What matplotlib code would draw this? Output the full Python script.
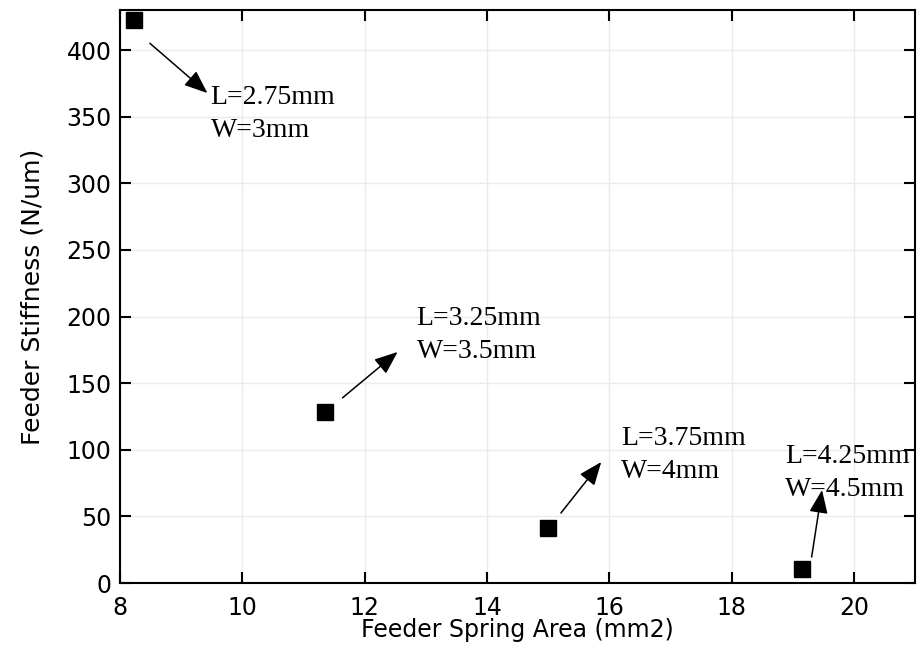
import matplotlib
matplotlib.use('Agg')
import matplotlib.pyplot as plt

# 数据
area = [8.23, 11.36, 15.0, 19.15]
stiffness = [422.5, 128.5, 41.0, 10.5]
labels = ['L=2.75mm\nW=3mm', 'L=3.25mm\nW=3.5mm', 'L=3.75mm\nW=4mm', 'L=4.25mm\nW=4.5mm']

# 箭头和文字位置 (数据坐标)
arrow_tail = [(8.49, 405), (11.64, 139), (15.21, 52.5), (19.31, 19.5)]
arrow_head = [(9.43, 367.7), (12.54, 173.4), (15.87, 90.8), (19.48, 69.8)]
text_pos = [(9.48, 352), (12.85, 186), (16.2, 96), (18.87, 82.5)]

fig = plt.figure(figsize=(9.18, 6.47), dpi=100)
ax = fig.add_axes([0.1307, 0.0989, 0.8660, 0.8856])

ax.plot(area, stiffness, 's', color='black', markersize=11, linestyle='none')

for lab, tail, head, tp in zip(labels, arrow_tail, arrow_head, text_pos):
    ax.annotate('', xy=head, xytext=tail,
                arrowprops=dict(arrowstyle='-|>,head_length=0.55,head_width=0.22',
                                color='black', lw=1.1,
                                mutation_scale=26, shrinkA=0, shrinkB=0))
    ax.text(tp[0], tp[1], lab, family='Liberation Serif', fontsize=20,
            va='center', ha='left', linespacing=1.4, clip_on=False)

ax.set_xlim(8, 21)
ax.set_ylim(0, 430)
ax.set_xticks(range(8, 21, 2))
ax.set_yticks(range(0, 401, 50))

ax.grid(True, color='#ebebeb', linewidth=1)
ax.set_axisbelow(True)
ax.tick_params(direction='in', length=8, width=1.5, top=True, right=True,
               labelsize=17, pad=6)
ax.tick_params(axis='x', pad=9)
for sp in ax.spines.values():
    sp.set_linewidth(1.5)

ax.set_xlabel('Feeder Spring Area (mm2)', fontsize=17, labelpad=-1)
ax.set_ylabel('Feeder Stiffness (N/um)', fontsize=18, labelpad=16)

plt.savefig('out.png', dpi=100)
